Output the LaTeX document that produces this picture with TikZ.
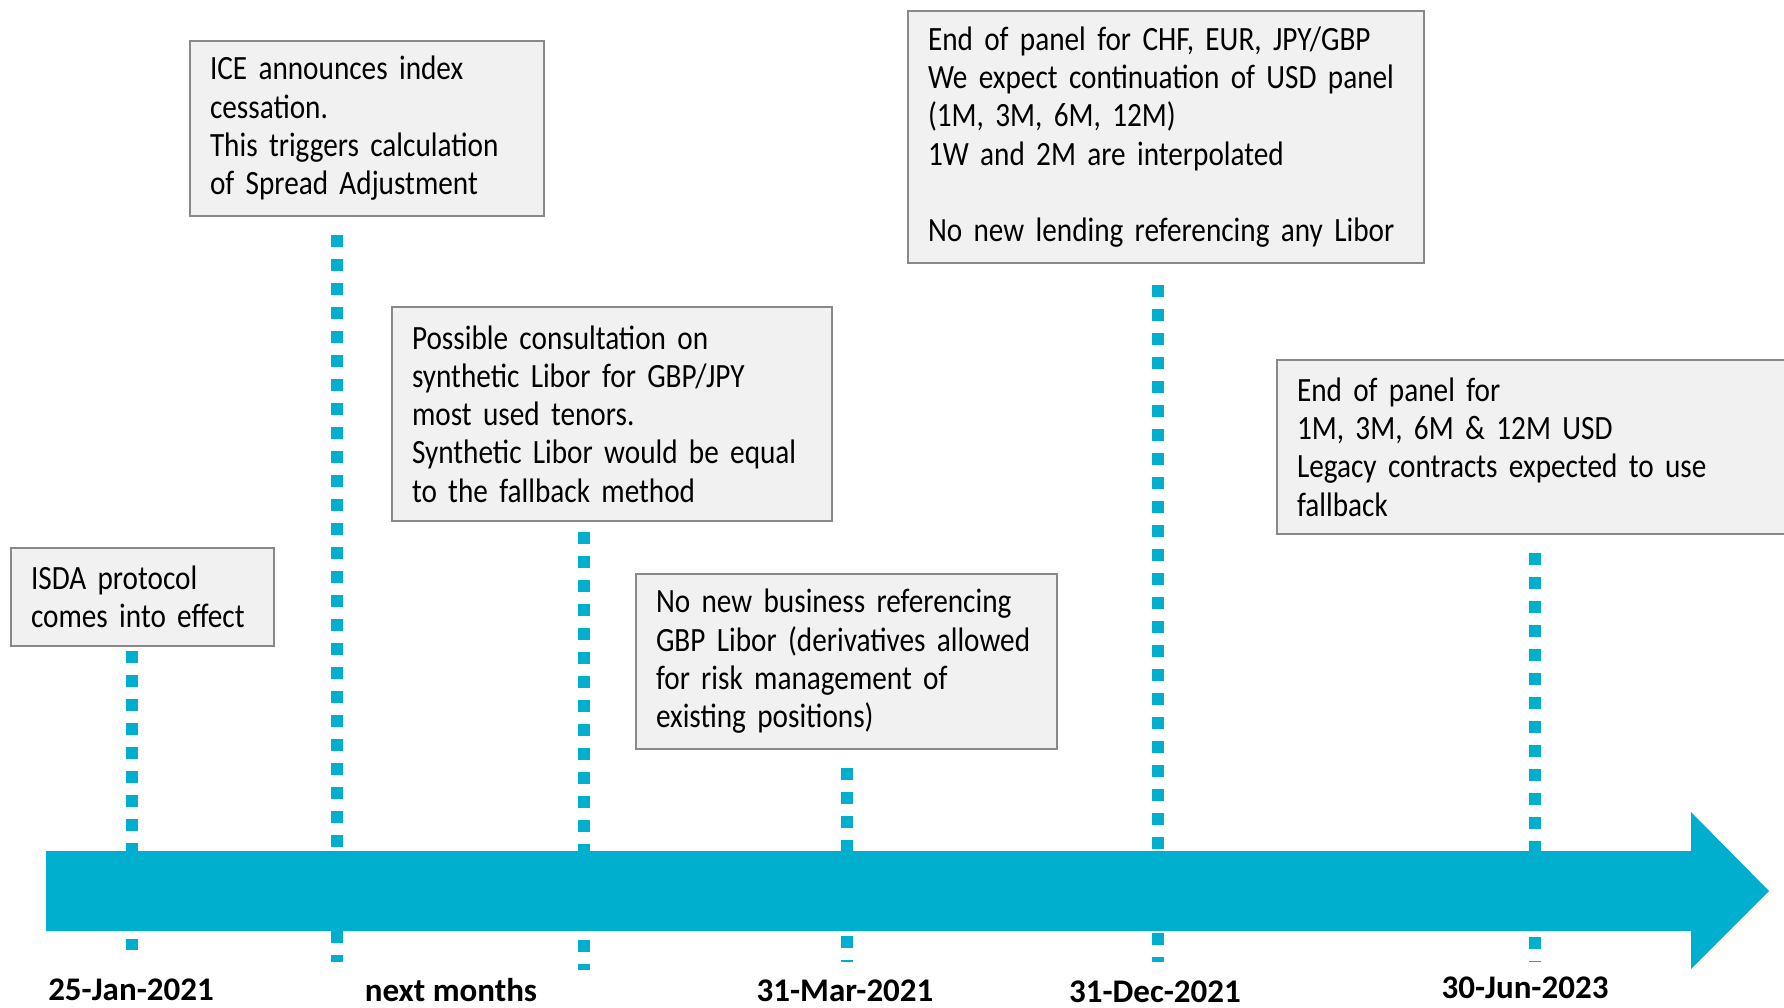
\documentclass[tikz,border=0pt]{standalone}
\usepackage{fontspec}
\setmainfont{Carlito}
\newfontfamily\boxfont[FakeStretch=0.86]{Carlito}
\tikzset{>=latex}
\definecolor{libblue}{RGB}{0,174,206}
\definecolor{boxgray}{RGB}{137,137,137}
\definecolor{boxfill}{RGB}{241,241,241}
\tikzset{
  event/.style={draw=boxgray, line width=2pt, fill=boxfill, anchor=north west, align=left, inner xsep=20pt, inner ysep=0pt, font=\boxfont\fontsize{34pt}{38.3pt}\selectfont},
  tick/.style={draw=libblue, line width=12pt, dash pattern=on 12pt off 12pt},
  datelbl/.style={anchor=base, inner sep=0pt, font=\bfseries\fontsize{33pt}{38pt}\selectfont}
}

\begin{document}
\begin{tikzpicture}[x=1pt, y=-1pt]
      \useasboundingbox (0,0) rectangle (1784,1008);
      \node[event, minimum width=263pt, minimum height=98pt, text width=223pt] (n1) at (10,547) {ISDA protocol\\comes into effect};
      \node[event, minimum width=354pt, minimum height=175pt, text width=314pt] (n2) at (189,40) {ICE announces index\\cessation.\\This triggers calculation\\of Spread Adjustment};
      \node[event, minimum width=440pt, minimum height=214pt, text width=400pt] (n3) at (391,306) {Possible consultation on\\synthetic Libor for GBP/JPY\\most used tenors.\\Synthetic Libor would be equal\\to the fallback method};
      \node[event, minimum width=421pt, minimum height=175pt, text width=381pt] (n4) at (635,573) {No new business referencing\\\mbox{GBP Libor (derivatives allowed}\\for risk management of\\existing positions)};
      \node[event, minimum width=516pt, minimum height=252pt, text width=476pt] (n5) at (907,10) {End of panel for CHF, EUR, JPY/GBP\\We expect continuation of USD panel\\(1M, 3M, 6M, 12M)\\1W and 2M are interpolated\\[38.3pt]No new lending referencing any Libor};
      \node[event, minimum width=540pt, minimum height=174pt, text width=500pt] (n6) at (1276,359) {End of panel for\\1M, 3M, 6M \& 12M USD\\Legacy contracts expected to use\\fallback};
      \coordinate (aux1) at (132,651);
      \coordinate (aux2) at (132,950);
      \coordinate (aux3) at (337,235);
      \coordinate (aux4) at (337,962);
      \coordinate (aux5) at (584,532);
      \coordinate (aux6) at (584,970);
      \coordinate (aux7) at (847,768);
      \coordinate (aux8) at (847,962);
      \coordinate (aux9) at (1158,285);
      \coordinate (aux10) at (1158,962);
      \coordinate (aux11) at (1535,553);
      \coordinate (aux12) at (1535,962);
      \draw[tick] (aux1) -- (aux2);
      \draw[tick] (aux3) -- (aux4);
      \draw[tick] (aux5) -- (aux6);
      \draw[tick] (aux7) -- (aux8);
      \draw[tick] (aux9) -- (aux10);
      \draw[tick] (aux11) -- (aux12);
      \fill[libblue] (46,851) -- (1691,851) -- (1691,812) -- (1769,891) -- (1691,969) -- (1691,931) -- (46,931) -- cycle;
      \node[datelbl] (d1) at (131,1000) {25-Jan-2021};
      \node[datelbl] (d2) at (451,1001) {next months};
      \node[datelbl] (d3) at (845,1001) {31-Mar-2021};
      \node[datelbl] (d4) at (1155,1002) {31-Dec-2021};
      \node[datelbl] (d5) at (1525,998) {30-Jun-2023};
    \end{tikzpicture}
\end{document}
